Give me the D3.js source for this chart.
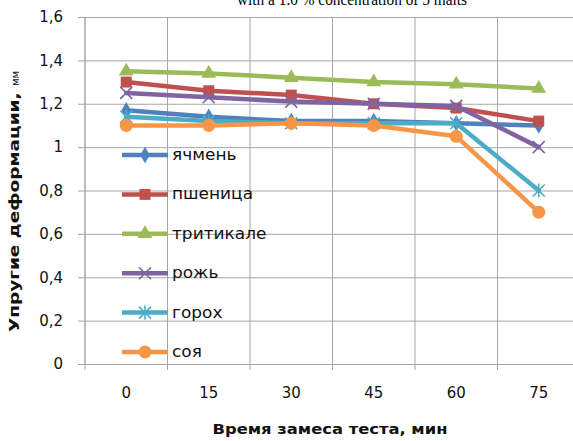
<!DOCTYPE html>
<html><head><meta charset="utf-8">
<script src="https://cdn.jsdelivr.net/npm/d3@7"></script>
<style>body{margin:0;background:#fff}svg{display:block}</style>
</head><body>
<script>
const categories = ["0","15","30","45","60","75"];
const seriesNames = ["ячмень","пшеница","тритикале","рожь","горох","соя"];
const barley    = [1.17,1.14,1.12,1.12,1.11,1.10];
const wheat     = [1.30,1.26,1.24,1.20,1.18,1.12];
const triticale = [1.35,1.34,1.32,1.30,1.29,1.27];
const rye       = [1.25,1.23,1.21,1.20,1.19,1.00];
const pea       = [1.14,1.12,1.11,1.11,1.11,0.80];
const soy       = [1.10,1.10,1.11,1.10,1.05,0.70];
const yTicks = [0,0.2,0.4,0.6,0.8,1,1.2,1.4,1.6];
const yTickLabels = ["0","0,2","0,4","0,6","0,8","1","1,2","1,4","1,6"];
const titleText = "with a 1.0 % concentration of 5 malts";
const yTitle = "Упругие деформации, ";
const yUnit = "мм";
const xTitle = "Время замеса теста, мин";

const colors = ["#4F81BD","#C0504D","#9BBB59","#8064A2","#4BACC6","#F79646"];
const markers = ["diamond","square","triangle","x","star","circle"];
const values = [barley, wheat, triticale, rye, pea, soy];

const W = 573, H = 441;
const svg = d3.select("body").append("svg").attr("width", W).attr("height", H);

const x = d3.scaleBand().domain(categories).range([85, 580]).padding(0);
const y = d3.scaleLinear().domain([0, 1.6]).range([364, 17]);
const grid = "#A6A6A6";
const ink = "#111";

// title (cut at top, as in the reference)
svg.append("text").attr("x", 352).attr("y", 5).attr("text-anchor","middle")
  .attr("font-family","Liberation Serif").attr("font-size",17)
  .attr("textLength",230).attr("lengthAdjust","spacingAndGlyphs")
  .text(titleText);

// horizontal gridlines + y ticks
const yAxis = d3.axisLeft(y).tickValues(yTicks).tickSize(-(580-85)).tickPadding(22)
  .tickFormat((d,i)=>yTickLabels[i]);
const gy = svg.append("g").attr("transform","translate(85,0)").call(yAxis);
gy.select(".domain").remove();
gy.selectAll(".tick line").attr("stroke",grid).attr("x1",-7);
gy.selectAll(".tick text").attr("font-family","DejaVu Sans").attr("font-size",15).attr("fill",ink);

// vertical gridlines at category boundaries
const bounds = categories.map(c => x(c)).concat([x(categories[categories.length-1]) + x.bandwidth()]);
svg.append("g").selectAll("line").data(bounds).join("line")
  .attr("x1",d=>d).attr("x2",d=>d).attr("y1",y(1.6)).attr("y2",y(0)+6)
  .attr("stroke",grid).attr("stroke-width",1);
svg.append("line").attr("x1",85).attr("x2",85).attr("y1",y(1.6)).attr("y2",y(0)).attr("stroke",grid);

// x labels
svg.append("g").selectAll("text").data(categories).join("text")
  .attr("x",d=>x(d)+x.bandwidth()/2).attr("y",398).attr("text-anchor","middle")
  .attr("font-family","DejaVu Sans").attr("font-size",15).attr("fill",ink).text(d=>d);

// axis titles
svg.append("text").attr("x",330).attr("y",434).attr("text-anchor","middle")
  .attr("font-family","DejaVu Sans").attr("font-weight","bold").attr("font-size",14)
  .attr("textLength",235).attr("lengthAdjust","spacingAndGlyphs")
  .attr("fill",ink).text(xTitle);
const yt = svg.append("text").attr("transform","translate(19,332) rotate(-90)").attr("text-anchor","start")
  .attr("font-family","DejaVu Sans").attr("font-weight","bold").attr("font-size",14).attr("fill",ink);
yt.append("tspan").attr("textLength",246).attr("lengthAdjust","spacingAndGlyphs").text(yTitle);
yt.append("tspan").attr("font-weight","normal").attr("font-size",10).text(yUnit);

function drawMarker(g, type, color, cx, cy) {
  if (type === "diamond") {
    g.append("path").attr("d", d3.symbol(d3.symbolDiamond, 80)()).attr("transform",`translate(${cx},${cy})`).attr("fill",color);
  } else if (type === "square") {
    g.append("path").attr("d", d3.symbol(d3.symbolSquare, 120)()).attr("transform",`translate(${cx},${cy})`).attr("fill",color);
  } else if (type === "triangle") {
    g.append("path").attr("d", d3.symbol(d3.symbolTriangle, 95)()).attr("transform",`translate(${cx},${cy})`).attr("fill",color);
  } else if (type === "circle") {
    g.append("circle").attr("cx",cx).attr("cy",cy).attr("r",6.5).attr("fill",color);
  } else if (type === "x" || type === "star") {
    const s = 6;
    const p = `M${-s},${-s}L${s},${s}M${-s},${s}L${s},${-s}` + (type==="star" ? `M0,${-s-1}L0,${s+1}` : "");
    g.append("path").attr("d",p).attr("transform",`translate(${cx},${cy})`).attr("stroke",color).attr("stroke-width",1.6).attr("fill","none");
  }
}

// series
const line = d3.line().x((d,i)=>x(categories[i])+x.bandwidth()/2).y(d=>y(d));
values.forEach((vals, k) => {
  const g = svg.append("g");
  g.append("path").attr("d", line(vals)).attr("fill","none").attr("stroke",colors[k])
    .attr("stroke-width",4.5).attr("stroke-linejoin","round").attr("stroke-linecap","round");
  vals.forEach((v,i)=> drawMarker(g, markers[k], colors[k], x(categories[i])+x.bandwidth()/2, y(v)));
});

// legend
seriesNames.forEach((name, k) => {
  const ly = 155 + k*39.4;
  const g = svg.append("g");
  g.append("line").attr("x1",122).attr("x2",168).attr("y1",ly).attr("y2",ly).attr("stroke",colors[k]).attr("stroke-width",4.5);
  drawMarker(g, markers[k], colors[k], 145, ly);
  g.append("text").attr("transform",`translate(172,${ly+5}) scale(1.13,1)`).attr("font-family","DejaVu Sans").attr("font-size",15)
    .attr("fill",ink).text(name);
});
</script>
</body></html>
